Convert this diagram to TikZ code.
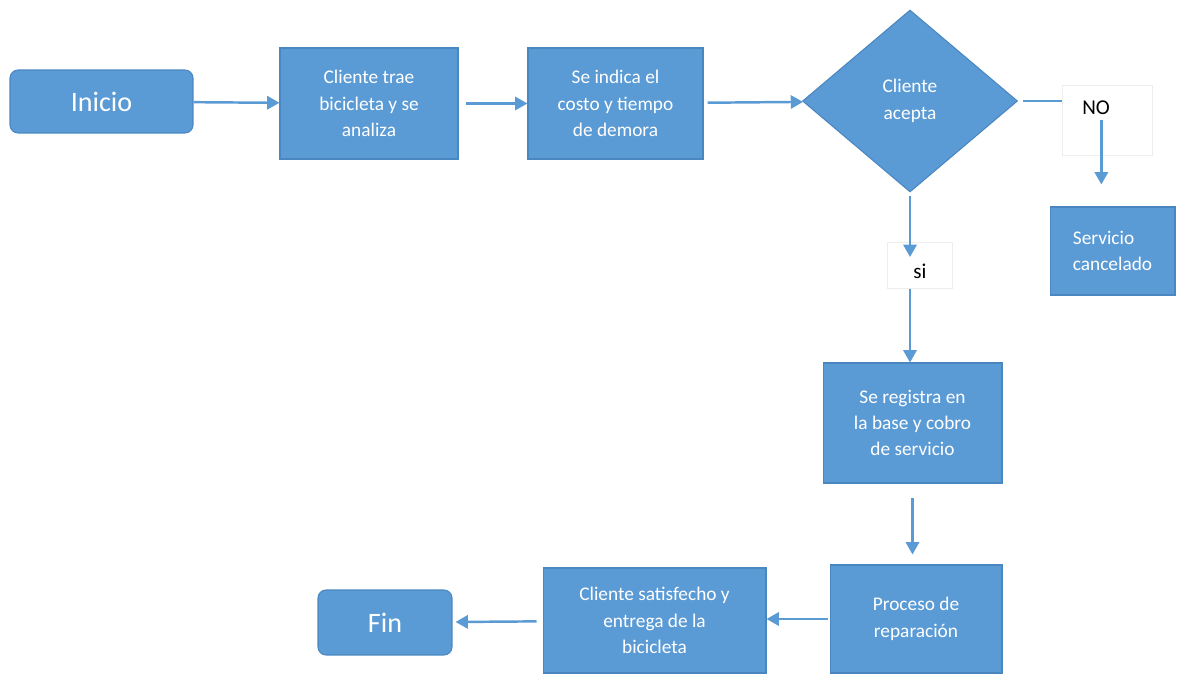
\documentclass[tikz,border=0pt]{standalone}
\usepackage{fontspec}
\setmainfont{Carlito}
\usetikzlibrary{shapes.geometric,arrows.meta}
\definecolor{azul}{HTML}{5B9BD5}
\definecolor{borde}{HTML}{4A86C0}
\definecolor{flecha}{HTML}{5B9BD5}
\begin{document}
\begin{tikzpicture}[x=0.02cm,y=-0.02cm,
        caja/.style={shape=rectangle,draw=borde,line width=0.6pt,fill=azul,text=white,align=center,inner sep=0pt,font=\fontsize{11}{15}\selectfont},
        extremo/.style={caja,rounded corners=0.16cm,font=\fontsize{16}{19}\selectfont},
        rombo/.style={caja,shape=diamond,minimum width=4.3cm,minimum height=3.64cm},
        etiqueta/.style={shape=rectangle,draw=black!7,inner sep=0pt,font=\fontsize{12}{14}\selectfont},
        linea/.style={color=flecha,line width=1.4pt},
        flujo/.style={linea,-{Triangle[length=7pt,width=7.5pt]}}]
                \useasboundingbox[fill=white] (0,0) rectangle (1189,675);

                \node[extremo,minimum width=3.66cm,minimum height=1.26cm] (1) at (101.5,101.5) {Inicio};
                \node[caja,minimum width=3.56cm,minimum height=2.22cm] (2) at (369,103.5) {Cliente trae\\bicicleta y se\\analiza};
                \node[caja,minimum width=3.5cm,minimum height=2.22cm] (3) at (615.5,103.5) {Se indica el\\costo y tiempo\\de demora};
                \node[rombo] (4) at (910,101) {Cliente\\acepta};
                \node[caja,align=left,minimum width=2.5cm,minimum height=1.76cm] (9) at (1112.5,251) {Servicio\\cancelado};
                \node[caja,minimum width=3.58cm,minimum height=2.4cm] (5) at (912.5,423) {Se registra en\\la base y cobro\\de servicio};
                \node[caja,minimum width=3.44cm,minimum height=2.16cm] (6) at (916,619) {Proceso de\\reparación};
                \node[caja,minimum width=4.46cm,minimum height=2.1cm] (7) at (654.5,620.5) {Cliente satisfecho y\\entrega de la\\bicicleta};
                \node[extremo,minimum width=2.68cm,minimum height=1.3cm] (8) at (385,622.5) {Fin};

                \node[etiqueta,anchor=north west,text width=1.0cm,inner xsep=0.4cm,text height=0.58cm,text depth=0.82cm] (no) at (1062,85) {NO};
                \node[etiqueta,anchor=north west,minimum width=1.3cm,text height=0.72cm,text depth=0.2cm] (si) at (887,242) {si};

                \draw [flujo] (1) -- (2);
                \draw [flujo,shorten <=0.14cm] (2) -- (3);
                \draw [flujo,shorten <=0.08cm] (3) -- (4);
                \draw [linea,shorten <=0.1cm] (4.east) -- (4.east -| no.west);
                \draw [flujo,shorten >=0.44cm] ([xshift=-0.12cm]no.center) -- ([xshift=-0.12cm]no.center |- 9.north);
                \draw [flujo,shorten <=0.06cm,shorten >=-0.3cm] (4.south) -- (4.south |- si.north);
                \draw [flujo] (4.south |- si.south) -- (4.south |- 5.north);
                \draw [flujo,shorten <=0.28cm,shorten >=0.2cm] (5) -- (5 |- 6.north);
                \draw [flujo,shorten <=0.04cm] (6) -- (6 -| 7.east);
                \draw [flujo,shorten <=0.12cm,shorten >=0.06cm] (7) -- (8);
            \end{tikzpicture}
\end{document}
